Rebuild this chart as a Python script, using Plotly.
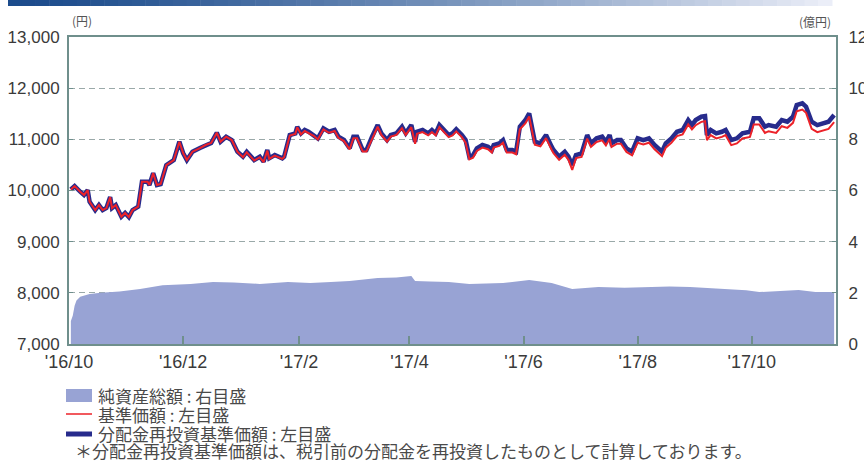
import plotly.graph_objects as go

# ---------------- data ----------------
dates_nav = [
    "2016-10-02", "2016-10-04", "2016-10-07", "2016-10-09", "2016-10-11", "2016-10-12", "2016-10-15",
    "2016-10-17", "2016-10-19", "2016-10-21", "2016-10-23", "2016-10-24", "2016-10-26", "2016-10-29",
    "2016-10-31", "2016-11-02", "2016-11-04", "2016-11-07", "2016-11-09", "2016-11-12", "2016-11-13",
    "2016-11-15", "2016-11-17", "2016-11-19", "2016-11-22", "2016-11-26", "2016-11-29", "2016-12-01",
    "2016-12-03", "2016-12-06", "2016-12-10", "2016-12-13", "2016-12-16", "2016-12-19", "2016-12-21",
    "2016-12-24", "2016-12-27", "2016-12-30",
    "2017-01-02", "2017-01-04", "2017-01-08", "2017-01-11", "2017-01-13", "2017-01-15", "2017-01-16",
    "2017-01-19", "2017-01-23", "2017-01-24", "2017-01-27", "2017-01-30", "2017-01-31",
    "2017-02-02", "2017-02-04", "2017-02-06", "2017-02-09", "2017-02-11", "2017-02-14", "2017-02-17",
    "2017-02-20", "2017-02-22", "2017-02-25", "2017-02-28",
    "2017-03-02", "2017-03-04", "2017-03-07", "2017-03-09", "2017-03-12", "2017-03-15", "2017-03-17",
    "2017-03-20", "2017-03-22", "2017-03-25", "2017-03-28", "2017-03-30",
    "2017-04-02", "2017-04-04", "2017-04-05", "2017-04-08", "2017-04-11", "2017-04-13", "2017-04-15",
    "2017-04-17", "2017-04-20", "2017-04-22", "2017-04-24", "2017-04-26", "2017-04-29",
    "2017-05-01", "2017-05-03", "2017-05-05", "2017-05-07", "2017-05-10", "2017-05-13", "2017-05-15",
    "2017-05-16", "2017-05-19", "2017-05-21", "2017-05-23", "2017-05-26", "2017-05-28", "2017-05-30",
    "2017-06-02", "2017-06-04", "2017-06-07", "2017-06-10", "2017-06-11", "2017-06-13", "2017-06-16",
    "2017-06-17", "2017-06-20", "2017-06-23", "2017-06-25", "2017-06-27", "2017-06-29",
    "2017-07-02", "2017-07-05", "2017-07-07", "2017-07-10", "2017-07-13", "2017-07-15", "2017-07-17",
    "2017-07-18", "2017-07-21", "2017-07-23", "2017-07-26", "2017-07-29",
    "2017-08-01", "2017-08-04", "2017-08-07", "2017-08-10", "2017-08-14", "2017-08-16", "2017-08-19",
    "2017-08-22", "2017-08-25", "2017-08-28", "2017-08-30",
    "2017-09-01", "2017-09-04", "2017-09-06", "2017-09-07", "2017-09-09", "2017-09-12", "2017-09-15",
    "2017-09-17", "2017-09-20", "2017-09-23", "2017-09-26", "2017-09-30",
    "2017-10-02", "2017-10-05", "2017-10-08", "2017-10-10", "2017-10-14", "2017-10-17", "2017-10-20",
    "2017-10-23", "2017-10-25", "2017-10-28", "2017-10-30",
    "2017-11-02", "2017-11-05", "2017-11-08", "2017-11-11", "2017-11-14",
]

# 分配金再投資基準価額 (円)
nav_reinvest = [
    10020, 10087, 9976, 9911, 10009, 9781, 9618,
    9716, 9618, 9657, 9872, 9657, 9716, 9488,
    9560, 9481, 9618, 9683, 10172, 10172, 10107,
    10341, 10107, 10126, 10497, 10595, 10953, 10732,
    10595, 10758, 10830, 10889, 10928, 11129, 10953,
    11051, 10986, 10758,
    10660, 10758, 10595, 10660, 10563, 10791, 10629,
    10693, 10629, 10660, 11084, 11117, 11246,
    11117, 11182, 11148, 11084, 11019, 11214, 11148,
    11182, 11051, 10986, 10824,
    11051, 11051, 10791, 10791, 11051, 11279, 11117,
    10986, 11084, 11117, 11246, 11117,
    11279, 10953, 11148, 11182, 11117, 11182, 11117,
    11279, 11160, 11084, 11117, 11195, 11084,
    10986, 10660, 10693, 10824, 10889, 10856, 10791,
    10889, 10922, 10986, 10791, 10791, 10758, 11246,
    11377, 11508, 10953, 10922, 10986, 11084, 10856,
    10791, 10660, 10758, 10660, 10497, 10693,
    10726, 11084, 10922, 11019, 11051, 10953, 11084,
    10922, 10986, 10986, 10824, 10758,
    11019, 10986, 11019, 10889, 10758, 10922, 11019,
    11148, 11182, 11377, 11279,
    11377, 11442, 11455, 11084, 11182, 11117, 11148,
    11182, 10986, 11019, 11117, 11148,
    11410, 11410, 11246, 11279, 11246, 11377, 11344,
    11442, 11670, 11703, 11638,
    11344, 11279, 11312, 11344, 11475,
]

# 基準価額 (円)
nav_base = [
    10020, 10087, 9976, 9911, 10009, 9781, 9618,
    9716, 9618, 9657, 9872, 9657, 9716, 9488,
    9560, 9481, 9618, 9683, 10172, 10172, 10107,
    10341, 10107, 10126, 10497, 10595, 10953, 10732,
    10595, 10758, 10830, 10889, 10928, 11129, 10953,
    11051, 10986, 10758,
    10650, 10748, 10585, 10650, 10553, 10781, 10619,
    10683, 10619, 10650, 11074, 11107, 11236,
    11097, 11162, 11128, 11064, 10999, 11194, 11128,
    11162, 11031, 10966, 10804,
    11021, 11021, 10761, 10761, 11021, 11249, 11087,
    10956, 11054, 11087, 11216, 11087,
    11239, 10913, 11108, 11142, 11077, 11142, 11077,
    11239, 11120, 11044, 11077, 11155, 11044,
    10936, 10610, 10643, 10774, 10839, 10806, 10741,
    10839, 10872, 10936, 10741, 10741, 10708, 11196,
    11317, 11448, 10893, 10862, 10926, 11024, 10796,
    10731, 10600, 10698, 10600, 10400, 10633,
    10656, 11014, 10852, 10949, 10981, 10883, 11014,
    10852, 10916, 10916, 10754, 10688,
    10934, 10901, 10934, 10804, 10673, 10837, 10934,
    11063, 11097, 11292, 11194,
    11277, 11342, 11355, 10984, 11082, 11017, 11048,
    11082, 10886, 10919, 11017, 11048,
    11290, 11290, 11126, 11159, 11126, 11257, 11224,
    11322, 11550, 11583, 11518,
    11204, 11139, 11172, 11204, 11335,
]

# 純資産総額 (億円)
dates_assets = [
    "2016-10-02", "2016-10-03", "2016-10-04", "2016-10-05", "2016-10-07", "2016-10-12", "2016-10-18",
    "2016-10-28", "2016-11-08", "2016-11-20", "2016-12-05", "2016-12-17", "2016-12-28", "2017-01-11",
    "2017-01-26", "2017-02-07", "2017-02-18", "2017-02-28", "2017-03-15", "2017-03-25", "2017-04-02",
    "2017-04-04", "2017-04-12", "2017-04-22", "2017-05-03", "2017-05-12", "2017-05-21", "2017-06-04",
    "2017-06-16", "2017-06-27", "2017-07-11", "2017-07-25", "2017-08-07", "2017-08-18", "2017-08-29",
    "2017-09-17", "2017-09-28", "2017-10-05", "2017-10-16", "2017-10-26", "2017-11-04", "2017-11-14",
]
net_assets = [
    0.9, 1.1, 1.5, 1.7, 1.85, 1.95, 2.0,
    2.05, 2.15, 2.3, 2.35, 2.42, 2.4, 2.35,
    2.42, 2.38, 2.42, 2.46, 2.58, 2.6, 2.66,
    2.46, 2.44, 2.42, 2.35, 2.36, 2.38, 2.5,
    2.38, 2.15, 2.23, 2.2, 2.23, 2.25, 2.23,
    2.15, 2.1, 2.03, 2.08, 2.11, 2.03, 2.03,
]

tick_dates = ["2016-10-01", "2016-12-01", "2017-02-01", "2017-04-01",
              "2017-06-01", "2017-08-01", "2017-10-01"]
tick_labels = ["'16/10", "'16/12", "'17/2", "'17/4", "'17/6", "'17/8", "'17/10"]

left_ticks = [7000, 8000, 9000, 10000, 11000, 12000, 13000]
left_tick_labels = ["7,000", "8,000", "9,000", "10,000", "11,000", "12,000", "13,000"]
right_ticks = [0, 2, 4, 6, 8, 10, 12]

legend_labels = ["純資産総額 : 右目盛", "基準価額 : 左目盛", "分配金再投資基準価額 : 左目盛"]
note_text = "＊分配金再投資基準価額は、税引前の分配金を再投資したものとして計算しております。"

# ---------------- styling ----------------
AREA = "#98a3d4"
NAVY = "#272b8c"
RED = "#ec2229"
AXIS = "#6f8f8c"
GRID = "#9aa9a9"
TXT = "#3a3a3a"
TICKFONT = dict(family="Liberation Sans, Arial, sans-serif", size=17, color=TXT)
JPFONT = dict(family="Noto Sans CJK JP, sans-serif", size=16, color="#4a4a4a")

fig = go.Figure()
fig.add_trace(go.Scatter(x=dates_assets, y=net_assets, yaxis="y2", mode="lines",
                         line=dict(width=0, color=AREA), fill="tozeroy", fillcolor=AREA,
                         showlegend=False, hoverinfo="skip"))
fig.add_trace(go.Scatter(x=dates_nav, y=nav_reinvest, mode="lines",
                         line=dict(width=4.5, color=NAVY), showlegend=False))
fig.add_trace(go.Scatter(x=dates_nav, y=nav_base, mode="lines",
                         line=dict(width=2, color=RED), showlegend=False))

fig.update_layout(
    width=864, height=461,
    margin=dict(l=69, r=28, t=37, b=117, autoexpand=False),
    paper_bgcolor="white", plot_bgcolor="white",
    xaxis=dict(type="date", range=["2016-10-01", "2017-11-15"],
               tickvals=tick_dates, ticktext=tick_labels,
               ticks="inside", ticklen=8, tickcolor=AXIS, tickwidth=1.5,
               showline=True, linecolor=AXIS, linewidth=2, mirror=True,
               showgrid=False, zeroline=False, tickfont=dict(TICKFONT, size=18),
               automargin=False),
    yaxis=dict(range=[7000, 13000], tickvals=left_ticks, ticktext=left_tick_labels,
               ticks="inside", ticklen=4, tickcolor=AXIS,
               showline=True, linecolor=AXIS, linewidth=2,
               showgrid=True, gridcolor=GRID, griddash="6px,4px", gridwidth=1,
               zeroline=False, tickfont=TICKFONT, ticklabelstandoff=4, automargin=False),
    yaxis2=dict(range=[0, 12], tickvals=right_ticks, overlaying="y", side="right",
                ticks="inside", ticklen=4, tickcolor=AXIS,
                showline=True, linecolor=AXIS, linewidth=2,
                showgrid=False, zeroline=False, tickfont=TICKFONT, ticklabelstandoff=7,
                automargin=False),
)


def px(xp):
    return (xp - 69) / 767


def py(yp):
    return (344 - yp) / 307


# unit labels
fig.add_annotation(xref="paper", yref="paper", x=px(70), y=py(21),
                   text="(円)", showarrow=False, xanchor="left", yanchor="middle",
                   font=dict(family="Noto Sans CJK JP, sans-serif", size=12, color="#555"))
fig.add_annotation(xref="paper", yref="paper", x=px(833), y=py(22),
                   text="(億円)", showarrow=False, xanchor="right", yanchor="middle",
                   font=dict(family="Noto Sans CJK JP, sans-serif", size=12, color="#555"))

# top gradient bar
n = 60
x0, x1 = 8, 832
c0 = (28, 76, 140)
c1 = (235, 238, 248)
for i in range(n):
    t = i / (n - 1)
    col = tuple(int(c0[k] + (c1[k] - c0[k]) * (t ** 1.3)) for k in range(3))
    a = x0 + (x1 - x0) * i / n
    b = x0 + (x1 - x0) * (i + 1) / n + 0.5
    fig.add_shape(type="rect", xref="paper", yref="paper",
                  x0=px(a), x1=px(b), y0=py(6), y1=py(0),
                  line=dict(width=0), fillcolor="rgb(%d,%d,%d)" % col, layer="above")

# legend
fig.add_shape(type="rect", xref="paper", yref="paper", x0=px(66), x1=px(92), y0=py(402), y1=py(389),
              fillcolor=AREA, line=dict(width=0))
fig.add_shape(type="line", xref="paper", yref="paper", x0=px(66), x1=px(92), y0=py(414), y1=py(414),
              line=dict(color=RED, width=1.5))
fig.add_shape(type="line", xref="paper", yref="paper", x0=px(66), x1=px(92), y0=py(434), y1=py(434),
              line=dict(color=NAVY, width=5))
for lbl, yy in zip(legend_labels, [395, 414, 433]):
    fig.add_annotation(xref="paper", yref="paper", x=px(96), y=py(yy), text=lbl, showarrow=False,
                       xanchor="left", yanchor="middle", font=dict(JPFONT, size=17))
fig.add_annotation(xref="paper", yref="paper", x=px(73), y=py(450), text=note_text, showarrow=False,
                   xanchor="left", yanchor="middle", font=dict(JPFONT, size=17))

fig.write_html("out.html", config={"displayModeBar": False},
               post_script="document.body.style.margin='0';document.body.style.overflow='hidden';")
